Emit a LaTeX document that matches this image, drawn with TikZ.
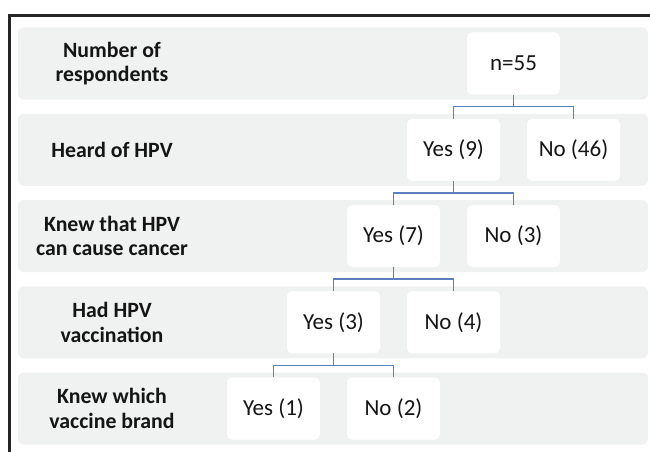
\documentclass[tikz,border=0pt]{standalone}
\usepackage{fontspec}
\setmainfont{Carlito}
\usetikzlibrary{calc}
\definecolor{bandgray}{HTML}{F0F1F1}
\definecolor{linkblue}{HTML}{5B80BE}
\definecolor{txt}{HTML}{151515}
\begin{document}
\begin{tikzpicture}[x=1pt,y=-1pt,
  band/.style={fill=bandgray, draw=none, rounded corners=6pt},
  valbox/.style={fill=white, draw=none, rounded corners=5pt, minimum width=93pt, minimum height=62pt, inner sep=0pt,
    text=txt, font=\fontsize{23pt}{26pt}\selectfont},
  rowlabel/.style={align=center, text=txt, inner sep=0pt, font=\fontsize{21.8pt}{24.5pt}\selectfont\bfseries},
  link/.style={draw=linkblue, line width=1.7pt}]
\useasboundingbox (0,0) rectangle (650,452);
\fill[white] (0,0) rectangle (650,452);
% frame
\draw[line width=2.6pt, black!85] (9.5,452) -- (9.5,15.5) -- (650,15.5);
% bands
\foreach \c in {63.5,149.75,236,322.25,408.5}{
  \path[band] (18,\c-36) rectangle (648,\c+36);
}
% row labels
\node[rowlabel] (l1) at (112,63.5) {Number of\\respondents};
\node[rowlabel] (l2) at (112,149.75) {Heard of HPV};
\node[rowlabel] (l3) at (112,236) {Knew that HPV\\can cause cancer};
\node[rowlabel] (l4) at (112,322.25) {Had HPV\\vaccination};
\node[rowlabel] (l5) at (112,408.5) {Knew which\\vaccine brand};
% value boxes
\node[valbox] (n) at (513.5,63.5) {n=55};
\node[valbox] (y1) at (453.5,149.75) {Yes (9)};
\node[valbox] (n1) at (573.5,149.75) {No (46)};
\node[valbox] (y2) at (393.5,236) {Yes (7)};
\node[valbox] (n2) at (513.5,236) {No (3)};
\node[valbox] (y3) at (333.5,322.25) {Yes (3)};
\node[valbox] (n3) at (453.5,322.25) {No (4)};
\node[valbox] (y4) at (273.5,408.5) {Yes (1)};
\node[valbox] (n4) at (393.5,408.5) {No (2)};
% connectors
\foreach \p/\a/\b in {n/y1/n1, y1/y2/n2, y2/y3/n3, y3/y4/n4}{
  \coordinate (m\p) at ($(\p.south)!0.5!(\a.north -| \p.south)$);
  \draw[link] (\p.south) -- (m\p);
  \draw[link] (\a.north) |- (m\p) -| (\b.north);
}
\end{tikzpicture}
\end{document}
